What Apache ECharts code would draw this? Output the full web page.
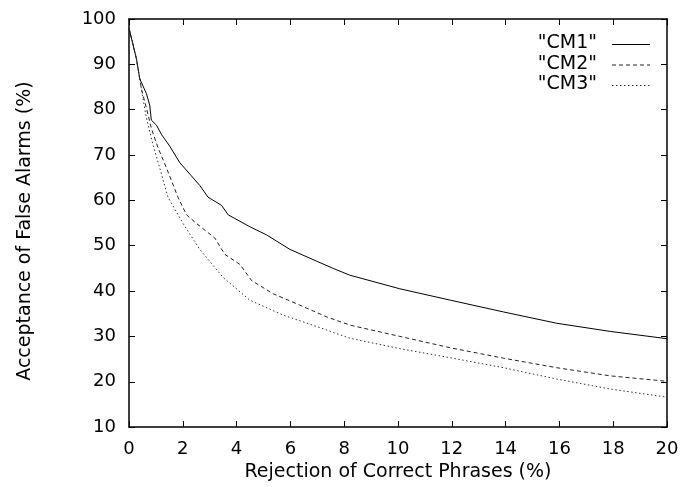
<!DOCTYPE html>
<html>
<head>
<meta charset="utf-8">
<script src="https://cdn.jsdelivr.net/npm/echarts@6/dist/echarts.min.js"></script>
<style>
html,body{margin:0;padding:0;background:#fff;}
#chart{width:690px;height:487px;}
</style>
</head>
<body>
<div id="chart"></div>
<script>
const seriesNames = ['"CM1"', '"CM2"', '"CM3"'];
const cm1X = [0, 0.28, 0.4, 0.65, 0.77, 0.83, 1.02, 1.21, 1.51, 1.89, 2.32, 2.63, 2.94, 3.44, 3.69, 4.49, 5.11, 5.98, 6.97, 7.59, 8.21, 10.07, 11.94, 13.92, 15.9, 17.89, 20];
const cm1Y = [98, 91.1, 86.8, 83.5, 81.0, 77.7, 76.6, 74.5, 72.0, 68.3, 65.4, 63.3, 60.7, 58.9, 56.8, 54.2, 52.4, 49.2, 46.6, 45.0, 43.5, 40.5, 38.0, 35.4, 32.9, 31.1, 29.5];
const cm2X = [0, 0.28, 0.4, 0.46, 0.65, 0.83, 1.08, 1.39, 1.82, 2.14, 2.51, 3.19, 3.56, 4.12, 4.56, 5.36, 6.35, 7.35, 8.21, 10.07, 11.94, 13.92, 15.9, 17.89, 20];
const cm2Y = [98, 91.1, 86.8, 84.6, 80.3, 75.9, 71.6, 67.2, 60.7, 56.8, 54.9, 51.7, 48.1, 45.9, 42.3, 39.4, 36.9, 34.3, 32.5, 30.0, 27.5, 25.2, 23.1, 21.3, 20.1];
const cm3X = [0, 0.28, 0.4, 0.52, 0.65, 0.89, 1.14, 1.45, 2.01, 2.63, 3.5, 4.49, 5.73, 6.97, 8.21, 10.07, 11.94, 13.92, 15.9, 17.89, 20];
const cm3Y = [98, 91.1, 86.8, 82.4, 78.1, 72.3, 67.2, 60.7, 54.9, 49.2, 43.0, 38.0, 34.7, 32.2, 29.6, 27.3, 25.3, 23.1, 20.6, 18.4, 16.6];
const xTitle = 'Rejection of Correct Phrases (%)';
const yTitle = 'Acceptance of False Alarms (%)';

const pairs = (xs, ys) => xs.map((x, i) => [x, ys[i]]);
const font = '"DejaVu Sans", "Liberation Sans", Arial, sans-serif';
const axisLine = { show: true, onZero: false, lineStyle: { color: '#000', width: 1.5 } };
const tick = { show: true, inside: true, length: 6, lineStyle: { color: '#000', width: 1 } };

const lineStyles = [
  { color: '#000', width: 1, type: 'solid' },
  { color: '#222', width: 1, type: [4, 3] },
  { color: '#333', width: 1, type: [1.5, 2.5] }
];

// legend drawn as text + sample line (text right-aligned, sample to its right)
const legendGraphics = [];
seriesNames.forEach((n, i) => {
  const cy = 44 + i * 20.5;
  legendGraphics.push({
    type: 'text', right: 690 - 597, top: cy - 10,
    style: { text: n, font: '19px ' + font, fill: '#000', textAlign: 'right' }
  });
  legendGraphics.push({
    type: 'line', shape: { x1: 612, y1: cy + 0.5, x2: 650, y2: cy + 0.5 },
    style: { stroke: lineStyles[i].color, lineWidth: 1, lineDash: Array.isArray(lineStyles[i].type) ? lineStyles[i].type : null }
  });
});

const chart = echarts.init(document.getElementById('chart'), null, { renderer: 'canvas' });
chart.setOption({
  animation: false,
  backgroundColor: '#fff',
  textStyle: { fontFamily: font },
  grid: { left: 129, right: 23, top: 19, bottom: 53, containLabel: false },
  graphic: legendGraphics,
  xAxis: [
    { type: 'value', min: 0, max: 20, interval: 2, position: 'bottom',
      name: xTitle, nameLocation: 'middle', nameGap: 34,
      nameTextStyle: { fontSize: 19, color: '#000', fontFamily: font },
      axisLine: axisLine, axisTick: tick,
      axisLabel: { fontSize: 18, color: '#000', margin: 13, fontFamily: font },
      splitLine: { show: false } },
    { type: 'value', min: 0, max: 20, interval: 2, position: 'top',
      axisLine: axisLine, axisTick: tick, axisLabel: { show: false }, splitLine: { show: false } }
  ],
  yAxis: [
    { type: 'value', min: 10, max: 100, interval: 10, position: 'left',
      name: yTitle, nameLocation: 'middle', nameGap: 94,
      nameTextStyle: { fontSize: 19, color: '#000', fontFamily: font, padding: [0, 16, 0, 0] },
      axisLine: axisLine, axisTick: tick,
      axisLabel: { fontSize: 18, color: '#000', margin: 13, fontFamily: font },
      splitLine: { show: false } },
    { type: 'value', min: 10, max: 100, interval: 10, position: 'right',
      axisLine: axisLine, axisTick: tick, axisLabel: { show: false }, splitLine: { show: false } }
  ],
  series: [
    { name: seriesNames[0], type: 'line', symbol: 'none', data: pairs(cm1X, cm1Y), lineStyle: lineStyles[0], itemStyle: { color: lineStyles[0].color } },
    { name: seriesNames[1], type: 'line', symbol: 'none', data: pairs(cm2X, cm2Y), lineStyle: lineStyles[1], itemStyle: { color: lineStyles[1].color } },
    { name: seriesNames[2], type: 'line', symbol: 'none', data: pairs(cm3X, cm3Y), lineStyle: lineStyles[2], itemStyle: { color: lineStyles[2].color } }
  ]
});
</script>
</body>
</html>
